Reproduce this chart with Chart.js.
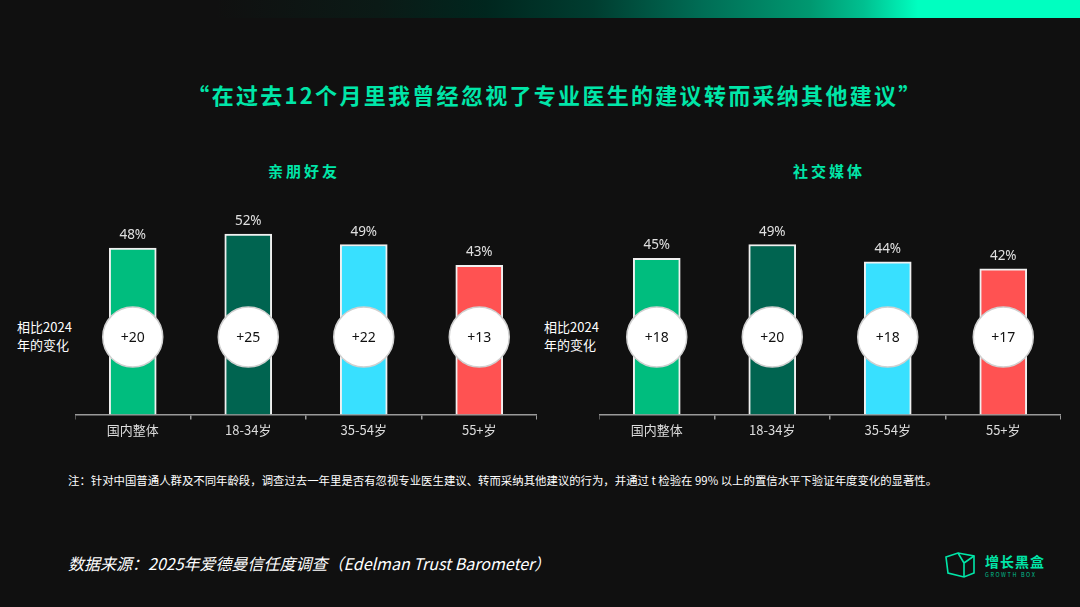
<!DOCTYPE html>
<html>
<head>
<meta charset="utf-8">
<script src="https://cdn.jsdelivr.net/npm/chart.js@4.4.1/dist/chart.umd.min.js"></script>
<style>
  html, body { margin: 0; padding: 0; }
  body { width: 1080px; height: 607px; background: #101010; position: relative; overflow: hidden;
         font-family: "Noto Sans CJK SC", "Noto Sans", sans-serif; color: #fff; }
  .topbar { position: absolute; left: 0; top: 0; width: 1080px; height: 18px;
            background: linear-gradient(to right, #101010 0%, #101010 20%, #0b1a16 35%, #00261e 45%, #003d30 55%, #006d55 65%, #009870 75%, #00c090 80%, #00ffc0 85%, #00ffc0 100%); }
  .title { position: absolute; left: 0; width: 1110px; top: 78px; text-align: center; font-size: 22px;
           font-weight: 700; color: #00e6a8; letter-spacing: 2.3px; }
  .sub { position: absolute; top: 160px; font-size: 15px; font-weight: 700; color: #00e6a8; letter-spacing: 3px; }
  .side { position: absolute; font-size: 13px; line-height: 18px; color: #fff; }
  .note { position: absolute; left: 68px; top: 472px; font-size: 11.4px; color: #fff; }
  .src { position: absolute; left: 68px; top: 551px; font-size: 16px; font-style: italic; color: #fff; }
  .logo { position: absolute; left: 985px; top: 553px; color: #00e6a8; }
  .logo .cn { font-size: 14px; font-weight: 700; letter-spacing: 1px; line-height: 16px; }
  .logo .en { font-size: 5.5px; letter-spacing: 1.6px; color: #00c090; margin-top: 2px; }
  canvas { position: absolute; }
</style>
</head>
<body>
<div class="topbar"></div>
<div class="title">“在过去12个月里我曾经忽视了专业医生的建议转而采纳其他建议”</div>
<div class="sub" style="left:268px">亲朋好友</div>
<div class="sub" style="left:793px">社交媒体</div>
<div class="side" style="left:17px;top:318px">相比2024<br>年的变化</div>
<div class="side" style="left:544px;top:318px">相比2024<br>年的变化</div>

<canvas id="chartLeft" width="462" height="261" style="left:75px;top:180px;width:462px;height:261px"></canvas>
<canvas id="chartRight" width="462" height="261" style="left:599px;top:180px;width:462px;height:261px"></canvas>

<div class="note">注：针对中国普通人群及不同年龄段，调查过去一年里是否有忽视专业医生建议、转而采纳其他建议的行为，并通过 t 检验在 99% 以上的置信水平下验证年度变化的显著性。</div>
<div class="src">数据来源：2025年爱德曼信任度调查（Edelman Trust Barometer）</div>
<svg style="position:absolute;left:944px;top:551px" width="34" height="28" viewBox="0 0 34 28">
  <path d="M2 6 L14 2 L30 5 L30 22 L20 26 L4 22 Z" fill="none" stroke="#00e6a8" stroke-width="1.6"/>
  <path d="M14 2 L20 12 L30 5 M20 12 L20 26" fill="none" stroke="#00e6a8" stroke-width="1.6"/>
</svg>
<div class="logo"><div class="cn">增长黑盒</div><div class="en">GROWTH BOX</div></div>

<script>
// categories and values
var categories = ['国内整体', '18-34岁', '35-54岁', '55+岁'];
var friendsShare = [48, 52, 49, 43];      // 亲朋好友 %
var friendsChange = [20, 25, 22, 13];     // vs 2024
var socialShare = [45, 49, 44, 42];       // 社交媒体 %
var socialChange = [18, 20, 18, 17];
var barColors = ['#00bd7e', '#006450', '#38e0ff', '#ff5252'];

var yMax = 67.6;
var circleLevel = 22.3;

var labelPlugin = {
    id: 'labelPlugin',
    afterDatasetsDraw: function (chart) {
        var ctx = chart.ctx;
        var meta = chart.getDatasetMeta(0);
        var changes = chart.options.plugins.labelPlugin.changes;
        var yScale = chart.scales.y;
        var cy = yScale.getPixelForValue(circleLevel);
        ctx.save();
        meta.data.forEach(function (bar, i) {
            var v = chart.data.datasets[0].data[i];
            ctx.fillStyle = '#e0e0e0';
            ctx.font = '13.5px "Noto Sans", "Noto Sans CJK SC", sans-serif';
            ctx.textAlign = 'center';
            ctx.textBaseline = 'bottom';
            ctx.fillText(v + '%', bar.x, bar.y - 6);

            ctx.beginPath();
            ctx.arc(bar.x, cy, 30, 0, Math.PI * 2);
            ctx.fillStyle = '#ffffff';
            ctx.fill();
            ctx.lineWidth = 1.5;
            ctx.strokeStyle = '#d0d0d0';
            ctx.stroke();

            ctx.fillStyle = '#111111';
            ctx.font = '14px "Noto Sans", "Noto Sans CJK SC", sans-serif';
            ctx.textBaseline = 'middle';
            ctx.fillText('+' + changes[i], bar.x, cy + 1);
        });
        ctx.restore();
    }
};

function makeChart(id, values, changes) {
    return new Chart(document.getElementById(id), {
        type: 'bar',
        data: {
            labels: categories,
            datasets: [{
                data: values,
                backgroundColor: barColors,
                borderColor: '#f0f0f0',
                borderWidth: 2,
                borderSkipped: 'bottom',
                barThickness: 47
            }]
        },
        options: {
            responsive: false,
            animation: false,
            layout: { padding: 0 },
            plugins: {
                legend: { display: false },
                tooltip: { enabled: false },
                labelPlugin: { changes: changes }
            },
            scales: {
                x: {
                    offset: true,
                    border: { display: true, color: '#9a9a9a', width: 1.5 },
                    grid: { display: true, offset: true, drawOnChartArea: false, drawTicks: true,
                            tickLength: 5, color: '#9a9a9a', lineWidth: 1.5 },
                    ticks: { color: '#dddddd', padding: 3,
                             font: { size: 13, family: '"Noto Sans CJK SC", "Noto Sans", sans-serif' } }
                },
                y: { display: false, min: 0, max: yMax }
            }
        },
        plugins: [labelPlugin]
    });
}

makeChart('chartLeft', friendsShare, friendsChange);
makeChart('chartRight', socialShare, socialChange);
</script>
</body>
</html>
